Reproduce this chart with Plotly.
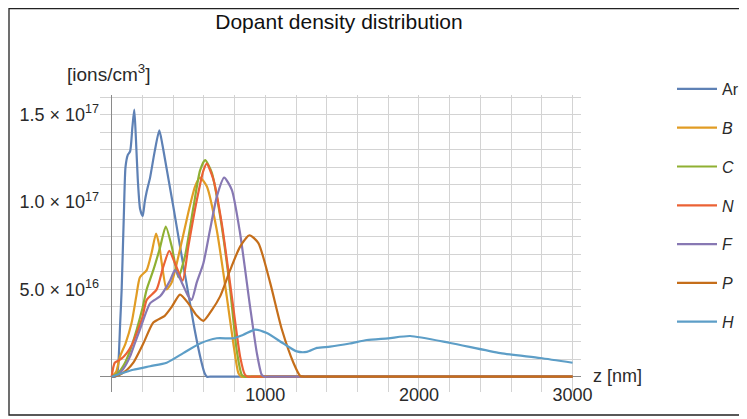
import plotly.graph_objects as go

# ---------------- data (z in nm, density in 1e16 ions/cm^3) ----------------
ar_z = [0, 25, 40, 55, 65, 80, 90, 105, 120, 135, 147, 157, 170, 185, 202, 215, 228, 250, 280, 310, 330, 360, 400, 450, 500, 540, 580, 605, 620, 640, 700, 900, 3000]
ar_v = [0, 0, 0.4, 3, 5, 9.5, 12, 12.7, 12.9, 14.3, 15.3, 13.8, 11.3, 9.6, 9.2, 10.0, 10.6, 11.4, 12.9, 14.1, 13.3, 11.8, 9.8, 7.2, 4.7, 2.7, 1.0, 0.2, 0, 0, 0, 0, 0]

b_z = [0, 30, 54, 90, 130, 160, 184, 228, 260, 289, 310, 326, 358, 391, 445, 499, 543, 575, 619, 684, 749, 792, 825, 845, 870, 950, 1200, 3000]
b_v = [0, 0.3, 1.15, 1.9, 3.1, 4.6, 5.7, 6.1, 7.1, 8.2, 7.5, 6.5, 5.0, 5.4, 7.3, 9.4, 10.9, 11.4, 10.9, 8.4, 4.6, 1.9, 0.2, 0, 0, 0, 0, 0]

c_z = [0, 40, 87, 120, 163, 200, 228, 271, 315, 352, 391, 434, 477, 532, 575, 608, 651, 706, 771, 814, 847, 865, 890, 970, 1200, 3000]
c_v = [0, 0.2, 0.8, 1.5, 2.7, 3.9, 5.0, 6.1, 7.4, 8.6, 7.45, 5.7, 6.9, 9.7, 11.8, 12.4, 11.7, 9.2, 5.0, 1.5, 0.1, 0, 0, 0, 0, 0]

n_z = [0, 20, 60, 98, 130, 163, 200, 228, 293, 336, 375, 412, 462, 499, 554, 597, 619, 662, 716, 782, 836, 868, 885, 910, 990, 1200, 3000]
n_v = [0, 0.8, 1.0, 1.35, 1.8, 2.5, 3.4, 4.4, 5.0, 6.3, 7.2, 6.5, 5.5, 7.45, 10.1, 11.8, 12.2, 11.3, 8.8, 4.6, 1.15, 0.1, 0, 0, 0, 0, 0]

f_z = [0, 40, 80, 119, 150, 184, 250, 315, 380, 412, 456, 499, 521, 554, 597, 640, 684, 732, 782, 836, 901, 945, 977, 995, 1020, 1100, 1300, 3000]
f_v = [0, 0.1, 0.5, 1.15, 1.9, 2.7, 4.2, 4.6, 5.5, 6.1, 5.4, 4.6, 4.4, 5.4, 6.5, 8.4, 10.3, 11.4, 10.7, 8.2, 4.0, 1.35, 0.1, 0, 0, 0, 0, 0]

p_z = [0, 50, 100, 141, 206, 271, 347, 391, 445, 499, 554, 597, 651, 706, 771, 836, 897, 955, 1031, 1108, 1183, 1227, 1250, 1280, 1360, 1600, 3000]
p_v = [0, 0.1, 0.4, 0.8, 1.9, 3.1, 3.5, 4.0, 4.7, 4.2, 3.5, 3.2, 3.8, 4.6, 6.1, 7.45, 8.1, 7.65, 5.4, 2.7, 0.8, 0.05, 0, 0, 0, 0, 0]

h_z = [0, 141, 250, 358, 466, 575, 684, 792, 857, 934, 1010, 1118, 1205, 1270, 1336, 1422, 1550, 1661, 1800, 1943, 2204, 2530, 2790, 3000]
h_v = [0, 0.4, 0.6, 0.8, 1.35, 1.9, 2.2, 2.2, 2.4, 2.7, 2.5, 1.9, 1.45, 1.42, 1.65, 1.72, 1.9, 2.1, 2.2, 2.33, 1.93, 1.35, 1.07, 0.8]

series_names = ["Ar", "B", "C", "N", "F", "P", "H"]
legend_labels = ["Ar", "<i>B</i>", "<i>C</i>", "<i>N</i>", "<i>F</i>", "<i>P</i>", "<i>H</i>"]
series_z = [ar_z, b_z, c_z, n_z, f_z, p_z, h_z]
series_v = [ar_v, b_v, c_v, n_v, f_v, p_v, h_v]
colors = ["#5E81B5", "#E19C24", "#8FB032", "#EB6235", "#8778B3", "#C56E1A", "#5D9EC7"]

y_tick_vals = [5e16, 1e17, 1.5e17]
y_tick_text = ["5.0 × 10<sup>16</sup>", "1.0 × 10<sup>17</sup>", "1.5 × 10<sup>17</sup>"]
x_tick_vals = [1000, 2000, 3000]
x_tick_text = ["1000", "2000", "3000"]

FONT = "Liberation Sans, Arial, sans-serif"
TXT = "#2a2a2a"

fig = go.Figure()
for name, lab, zs, vs, col in zip(series_names, legend_labels, series_z, series_v, colors):
    fig.add_trace(go.Scatter(
        x=zs, y=[v * 1e16 for v in vs], mode="lines", name=lab,
        legendgroup=name,
        line=dict(color=col, width=2.2, shape="spline", smoothing=0.6),
    ))

# the page body has an 8px margin, so the figure is sized to the visible area
W, H = 739, 411
ML, MR, MT, MB = 92, 166, 87, 27
pw = W - ML - MR
ph = H - MT - MB


def px(xp):
    return (xp - ML) / pw


def py(yp):
    return 1 - (yp - MT) / ph


fig.update_layout(
    width=W, height=H,
    margin=dict(l=ML, r=MR, t=MT, b=MB, autoexpand=False),
    paper_bgcolor="white", plot_bgcolor="white",
    font=dict(family=FONT, size=15, color=TXT),
    title=dict(text="Dopant density distribution", x=px(331), xref="paper",
               xanchor="center", y=1 - 14 / H, yanchor="middle",
               font=dict(size=21, color="#111111")),
    showlegend=True,
    legend=dict(x=px(664), xanchor="left", y=py(64), yanchor="top",
                font=dict(size=16, color=TXT), tracegroupgap=15,
                itemwidth=40, maxheight=380,
                bgcolor="rgba(0,0,0,0)"),
    xaxis=dict(range=[-76, 3055], showgrid=True, gridcolor="#d3d3d3", gridwidth=1,
               tickmode="array", tickvals=x_tick_vals, ticktext=x_tick_text,
               zeroline=True, zerolinecolor="#8a8a8a", zerolinewidth=1.3, showline=False,
               ticks="", ticklabelstandoff=-10, automargin=False,
               tickfont=dict(size=18, color=TXT)),
    yaxis=dict(range=[-0.876e16, 1.613e17], showgrid=True, gridcolor="#d3d3d3", gridwidth=1,
               tickmode="array", tickvals=y_tick_vals, ticktext=y_tick_text,
               zeroline=True, zerolinecolor="#8a8a8a", zerolinewidth=1.3, showline=False,
               ticks="", automargin=False,
               tickfont=dict(size=18, color=TXT)),
)

fig.update_xaxes(minor=dict(tickmode="array", tickvals=list(range(0, 3001, 200)),
                            showgrid=True, gridcolor="#d3d3d3", gridwidth=1))
fig.update_yaxes(minor=dict(tickmode="array", tickvals=[k * 1e16 for k in range(0, 17)],
                            showgrid=True, gridcolor="#d3d3d3", gridwidth=1))

fig.add_annotation(text="[ions/cm<sup>3</sup>]", xref="paper", yref="paper",
                   x=px(100), y=py(65), xanchor="center", yanchor="middle",
                   showarrow=False, font=dict(size=19, color=TXT))
fig.add_annotation(text="z [nm]", xref="paper", yref="paper",
                   x=px(583), y=py(368), xanchor="left", yanchor="middle",
                   showarrow=False, font=dict(size=18, color=TXT))

# outer frame (left, top, bottom edges as in the reference)
fig.add_shape(type="rect", xref="paper", yref="paper",
              x0=px(1), x1=px(760), y0=py(407), y1=py(0.5),
              line=dict(color="#222222", width=1.3), fillcolor="rgba(0,0,0,0)", layer="above")

fig.write_html("out.html")
